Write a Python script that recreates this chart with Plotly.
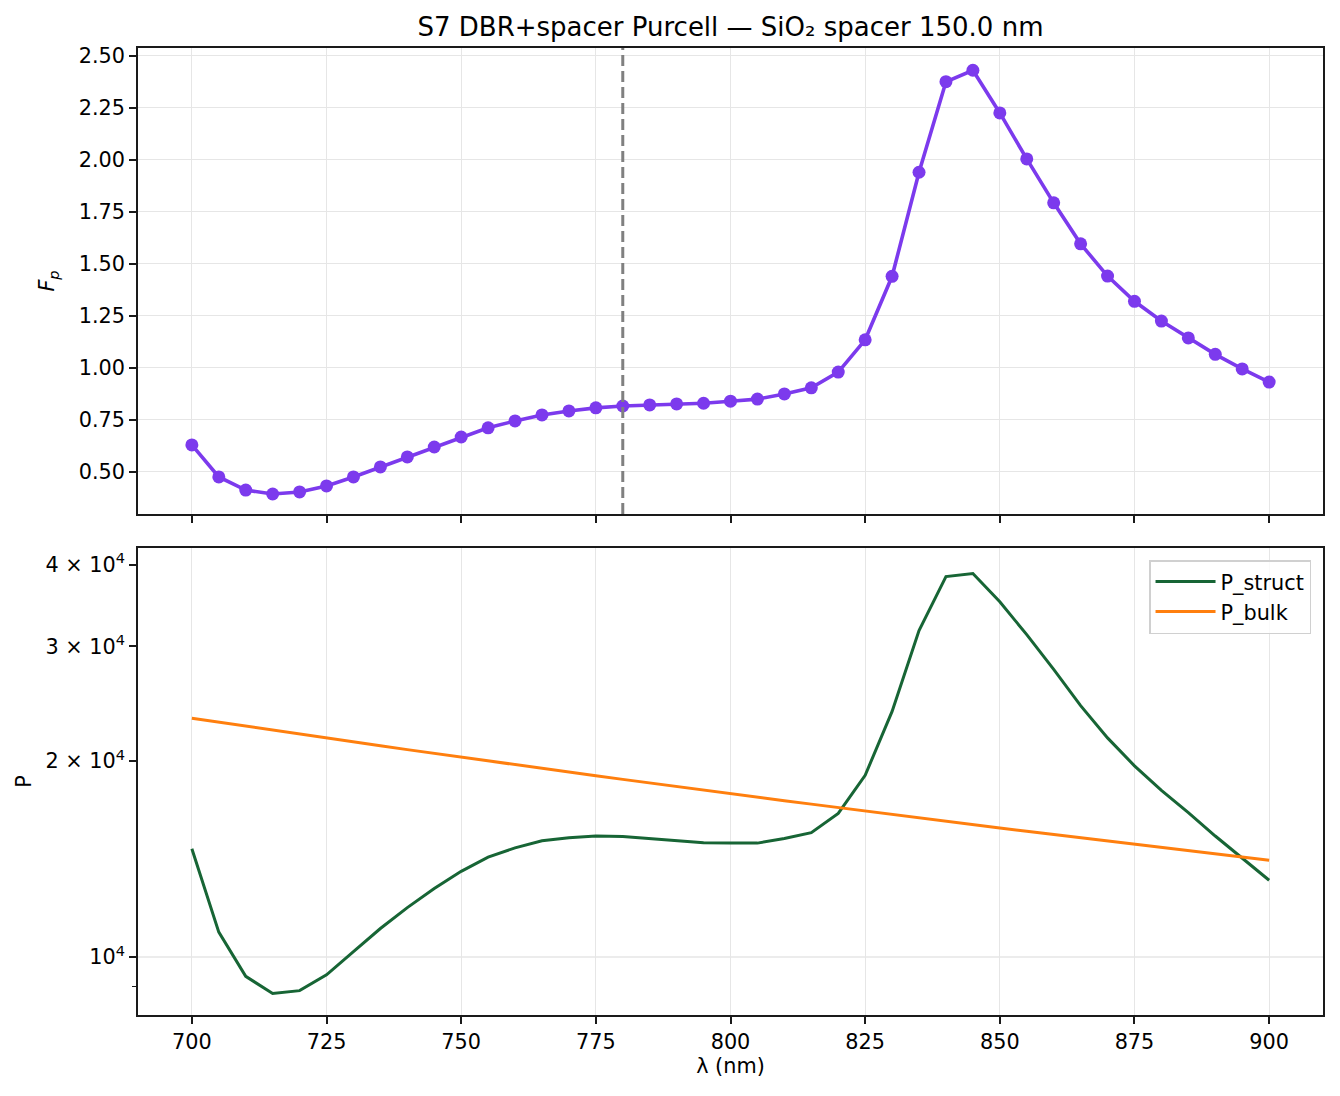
import plotly.graph_objects as go

# wavelengths (nm)
lam = [700, 705, 710, 715, 720, 725, 730, 735, 740, 745, 750, 755, 760, 765,
       770, 775, 780, 785, 790, 795, 800, 805, 810, 815, 820, 825, 830, 835,
       840, 845, 850, 855, 860, 865, 870, 875, 880, 885, 890, 895, 900]

# Purcell factor
fp = [0.63, 0.476, 0.413, 0.394, 0.404, 0.433, 0.476, 0.524, 0.572, 0.620,
      0.668, 0.712, 0.745, 0.774, 0.793, 0.808, 0.817, 0.822, 0.827, 0.830,
      0.840, 0.850, 0.875, 0.904, 0.980, 1.135, 1.440, 1.940, 2.375, 2.430,
      2.225, 2.004, 1.793, 1.596, 1.441, 1.320, 1.225, 1.144, 1.065, 0.995,
      0.932]

# emitted power, bottom panel (log axis)
p_struct = [14660, 10920, 9340, 8790, 8880, 9390, 10190, 11060, 11910, 12740,
            13540, 14240, 14710, 15080, 15250, 15340, 15310, 15210, 15110, 14980,
            14970, 14960, 15210, 15520, 16620, 19010, 23830, 31720, 38380, 38810,
            35110, 31260, 27650, 24320, 21700, 19660, 18030, 16660, 15340, 14170,
            13120]
p_bulk = [23270, 22940, 22620, 22310, 21990, 21690, 21400, 21110, 20820, 20540,
          20270, 20000, 19740, 19480, 19230, 18980, 18740, 18500, 18270, 18040,
          17820, 17600, 17380, 17170, 16960, 16750, 16550, 16350, 16160, 15970,
          15780, 15600, 15420, 15240, 15060, 14890, 14720, 14560, 14400, 14240,
          14080]

lam_design = 780
p_ticks = [10000, 20000, 30000, 40000]
p_ticktext = ["10<sup>4</sup>", "2 × 10<sup>4</sup>", "3 × 10<sup>4</sup>", "4 × 10<sup>4</sup>"]

purple = "#7c3aed"
green = "#176535"
orange = "#ff7f0e"
grid = "#e6e6e6"
fs = 20.8  # 10pt at 150 dpi

fig = go.Figure()

fig.add_trace(go.Scatter(
    x=lam, y=fp, mode="lines+markers",
    line=dict(color=purple, width=3.6),
    marker=dict(color=purple, size=13),
    xaxis="x", yaxis="y", showlegend=False,
))
fig.add_trace(go.Scatter(
    x=lam, y=p_struct, mode="lines", name="P_struct",
    line=dict(color=green, width=3),
    xaxis="x2", yaxis="y2",
))
fig.add_trace(go.Scatter(
    x=lam, y=p_bulk, mode="lines", name="P_bulk",
    line=dict(color=orange, width=3),
    xaxis="x2", yaxis="y2",
))

axis_style = dict(
    showline=True, mirror=True, linecolor="#1a1a1a", linewidth=1.7,
    ticks="outside", ticklen=7, tickwidth=1.7, tickcolor="#1a1a1a",
    gridcolor=grid, gridwidth=1.4, zeroline=False,
    tickfont=dict(size=fs, color="black"),
)

fig.update_layout(
    width=1324, height=1080,
    paper_bgcolor="white", plot_bgcolor="white",
    font=dict(family="DejaVu Sans", color="black"),
    margin=dict(l=130, r=7, t=40, b=73),
    title=dict(text="S7 DBR+spacer Purcell — SiO₂ spacer 150.0 nm",
               x=0.5, xref="paper", xanchor="center",
               y=1 - 19 / 1080, yanchor="middle",
               font=dict(size=26)),
    xaxis=dict(axis_style, domain=[0, 1], anchor="y", range=[690, 910],
               tick0=700, dtick=25, showticklabels=False, matches="x2"),
    yaxis=dict(axis_style, domain=[0.5181, 1], anchor="x",
               range=[0.298, 2.537], tick0=0.5, dtick=0.25, tickformat=".2f",
               title=dict(text="<i>F<sub>p</sub></i>", font=dict(size=fs), standoff=18)),
    xaxis2=dict(axis_style, domain=[0, 1], anchor="y2", range=[690, 910],
                tick0=700, dtick=25,
                title=dict(text="λ (nm)", font=dict(size=fs), standoff=6)),
    yaxis2=dict(axis_style, domain=[0, 0.4829], anchor="x2", type="log",
                range=[3.911, 4.628], tickvals=p_ticks, ticktext=p_ticktext,
                showgrid=False,
                minor=dict(tickvals=[9000], ticks="outside", ticklen=4,
                           tickwidth=1.3, tickcolor="#1a1a1a", showgrid=False),
                title=dict(text="P", font=dict(size=fs), standoff=8)),
    legend=dict(x=0.9899, y=0.4705, xanchor="right", yanchor="top",
                bgcolor="rgba(255,255,255,0.8)", bordercolor="#d0d0d0",
                borderwidth=1.5, font=dict(size=fs), itemwidth=60),
)

# dashed design wavelength marker
fig.add_shape(type="line", xref="x", yref="y domain", x0=lam_design, x1=lam_design,
              y0=0, y1=1, line=dict(color="#808080", width=3, dash="11px,5px"))
# major gridline of the log axis (only the decade)
fig.add_shape(type="line", xref="x2 domain", yref="y2", x0=0, x1=1,
              y0=p_ticks[0], y1=p_ticks[0], layer="below",
              line=dict(color=grid, width=1.4))

fig.write_html("out.html")
